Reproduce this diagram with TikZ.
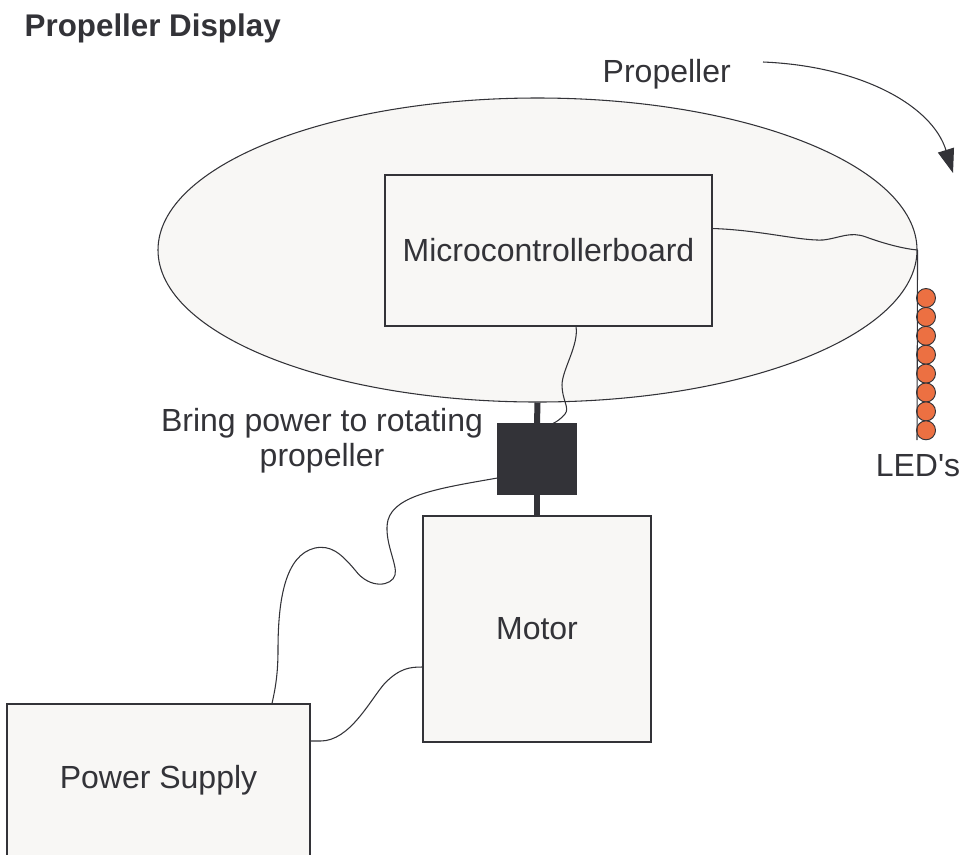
\documentclass[tikz,border=0pt]{standalone}
\usepackage{fontspec}
\setmainfont{Liberation Sans}
\usetikzlibrary{shapes.geometric,arrows.meta,calc}
\definecolor{inkgray}{HTML}{333338}
\definecolor{paper}{HTML}{F8F7F5}
\definecolor{ledorange}{HTML}{EC7042}

\begin{document}
\begin{tikzpicture}[
    x=0.75pt,y=-0.75pt,
    every node/.style={text=inkgray},
    txt/.style={font=\fontsize{24}{26.25}\selectfont},
    box/.style={draw=inkgray,fill=paper,line width=0.8pt,inner sep=0pt,txt},
    wire/.style={draw=inkgray,line width=0.8pt},
    shaft/.style={draw=inkgray,line width=4.5pt},
    led/.style={circle,draw=inkgray,fill=ledorange,line width=0.7pt,minimum size=14.25pt,inner sep=0pt}
]
\useasboundingbox (0,0) rectangle (962,854);

% Propeller disc and board
\node[box,ellipse,minimum width=569.25pt,minimum height=228pt] (prop) at (537.5,250) {};
\node[box,minimum width=245.25pt,minimum height=113.25pt] (board) at (548.5,250.5) {Microcontrollerboard};

% Coupling, motor, supply
\node[box,fill=inkgray,minimum width=58.5pt,minimum height=52.5pt] (coupling) at (537,459) {};
\node[box,minimum width=171pt,minimum height=169.5pt] (motor) at (537,629) {Motor};
\node[box,minimum width=227.25pt,minimum height=114pt] (supply) at (158.5,780) {Power Supply};

% LED strip
\coordinate (stripend) at (917,440);
\foreach \i in {0,...,7}
    \node[led] (led\i) at (926,298+18.9*\i) {};

% Labels
\node[anchor=base west,font=\bfseries\fontsize{23.5}{28}\selectfont] (title) at (20,36) {Propeller Display};
\node[txt,anchor=base west] (proplabel) at (598,82) {Propeller};
\node[txt,align=center] (bringlabel) at (322,441) {Bring power to rotating\\propeller};
\node[txt,anchor=base] (ledlabel) at (918,476) {LED\textquotesingle s};

% Shaft
\draw[shaft] (prop.south) -- (coupling.north);
\draw[shaft] (coupling.south) -- (coupling.south |- motor.north);

% Wires
\draw[wire] ($(board.east)+(0,-22)$) .. controls (760,230) and (800,241) .. (823,240)
    .. controls (840,238) and (850,231) .. (866,237)
    .. controls (885,244) and (905,249) .. (prop.east);
\draw[wire] (prop.east) -- (stripend);
\draw[wire] ($(board.south)+(27.5,0)$) .. controls (579,345) and (562,370) .. (562,385)
    .. controls (562,400) and (570,408) .. (565,414)
    .. controls (561,419) and (556,422) .. ($(coupling.north)+(16,0)$);
\draw[wire] ($(coupling.west)+(0,19)$) .. controls (440,488) and (395,495) .. (388,520)
    .. controls (383,540) and (398,565) .. (395,575)
    .. controls (392,586) and (370,590) .. (355,570)
    .. controls (340,552) and (330,545) .. (315,548)
    .. controls (285,555) and (278,600) .. (278,650)
    .. controls (278,675) and (275,690) .. ($(supply.north)+(113.5,0)$);
\draw[wire] ($(supply.east)+(0,-39)$) -- ++(10,0)
    .. controls (350,741) and (370,700) .. (385,683)
    .. controls (400,668) and (410,667) .. ($(motor.west)+(0,38)$);

% Rotation arrow
\coordinate (arrowstart) at (763,62);
\coordinate (arrowtip) at (953,173);
\draw[wire,-{Triangle[length=18pt,width=12.5pt]}] (arrowstart) .. controls (860,66) and (932,105) .. (arrowtip);
\end{tikzpicture}
\end{document}
